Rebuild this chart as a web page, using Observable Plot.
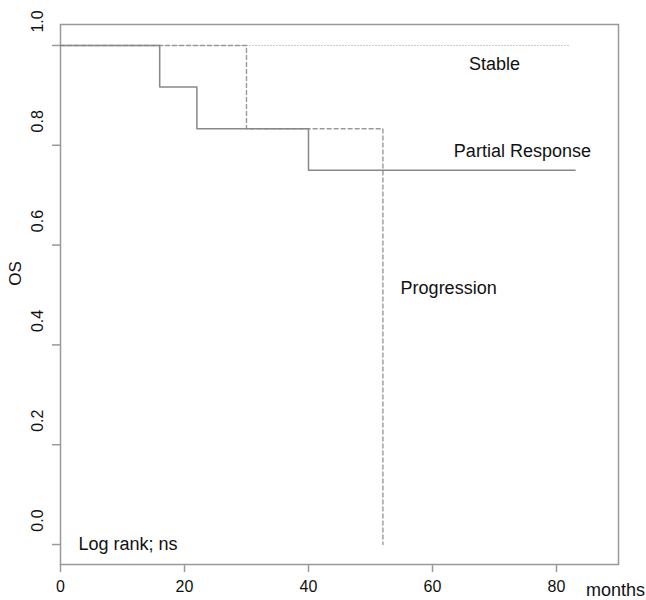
<!DOCTYPE html>
<html>
<head>
<meta charset="utf-8">
<script src="https://cdn.jsdelivr.net/npm/d3@7"></script>
<script src="https://cdn.jsdelivr.net/npm/@observablehq/plot@0.6"></script>
<style>
  html, body { margin: 0; padding: 0; background: #fff; }
  svg { display: block; }
</style>
</head>
<body>
<div id="chart"></div>
<script>
// Kaplan-Meier step data (months, OS)
const partialTimes = [0, 16, 22, 40, 83];
const partialSurv  = [1, 0.917, 0.833, 0.75, 0.75];
const progTimes    = [0, 30, 52];
const progSurv     = [1, 0.833, 0];
const stableTimes  = [0, 82];
const stableSurv   = [1, 1];

const xTicks = [0, 20, 40, 60, 80];
const yTicks = [0, 0.2, 0.4, 0.6, 0.8, 1.0];
const yTickLabels = ["0.0", "0.2", "0.4", "0.6", "0.8", "1.0"];

const curveLabels = [
  {t: 70, s: 0.962, label: "Stable"},
  {t: 74.5, s: 0.788, label: "Partial Response"},
  {t: 62.6, s: 0.513, label: "Progression"}
];

const toRows = (ts, ss) => ts.map((t, i) => ({t, s: ss[i]}));
const partial = toRows(partialTimes, partialSurv);
const prog = toRows(progTimes, progSurv);
const stable = toRows(stableTimes, stableSurv);
const yTickRows = yTicks.map((v, i) => ({v, label: yTickLabels[i]}));

const font = "'Liberation Sans', Arial, Helvetica, sans-serif";
const ink = "#111";

const chart = Plot.plot({
  width: 646,
  height: 600,
  marginLeft: 60,
  marginRight: 28,
  marginTop: 24,
  marginBottom: 36,
  style: {fontFamily: font, background: "#fff"},
  x: {domain: [0, 90]},
  y: {domain: [-0.04, 1.042]},
  marks: [
    Plot.frame({stroke: "#999", strokeWidth: 1.5}),
    // x axis ticks and labels
    Plot.axisX({ticks: xTicks, tickSize: 8, tickPadding: 8, stroke: "#999", strokeWidth: 1.5,
      fontSize: 16, fill: ink, label: null, tickFormat: d => String(d)}),
    // y axis ticks (labels drawn separately, shifted as in the original)
    Plot.axisY({ticks: yTicks, tickSize: 8, stroke: "#999", strokeWidth: 1.5, tickFormat: () => "", label: null}),
    Plot.text(yTickRows, {y: "v", text: "label", frameAnchor: "left", dx: -23, dy: -24,
      rotate: -90, textAnchor: "middle", lineAnchor: "middle", fontSize: 16, fill: ink}),
    Plot.text(["OS"], {frameAnchor: "left", y: 0.501, dx: -45, dy: -21, rotate: -90,
      textAnchor: "middle", lineAnchor: "middle", fontSize: 17, fill: ink}),
    Plot.text(["months"], {x: 90, frameAnchor: "bottom", dx: -3, dy: 26, textAnchor: "middle",
      lineAnchor: "middle", fontSize: 18, fill: ink}),
    // curves
    Plot.line(stable, {x: "t", y: "s", curve: "step-after", stroke: "#c4c4c4", strokeWidth: 1, strokeDasharray: "1,2"}),
    Plot.line(prog, {x: "t", y: "s", curve: "step-after", stroke: "#999", strokeWidth: 1.4, strokeDasharray: "4,3"}),
    Plot.line(partial, {x: "t", y: "s", curve: "step-after", stroke: "#888", strokeWidth: 1.5}),
    // labels
    Plot.text(curveLabels, {x: "t", y: "s", text: "label", textAnchor: "middle", lineAnchor: "middle",
      fontSize: 18, fill: ink}),
    Plot.text(["Log rank; ns"], {x: 2.9, y: 0.0, textAnchor: "start", lineAnchor: "middle", fontSize: 18, fill: ink})
  ]
});

document.getElementById("chart").appendChild(chart);
</script>
</body>
</html>
